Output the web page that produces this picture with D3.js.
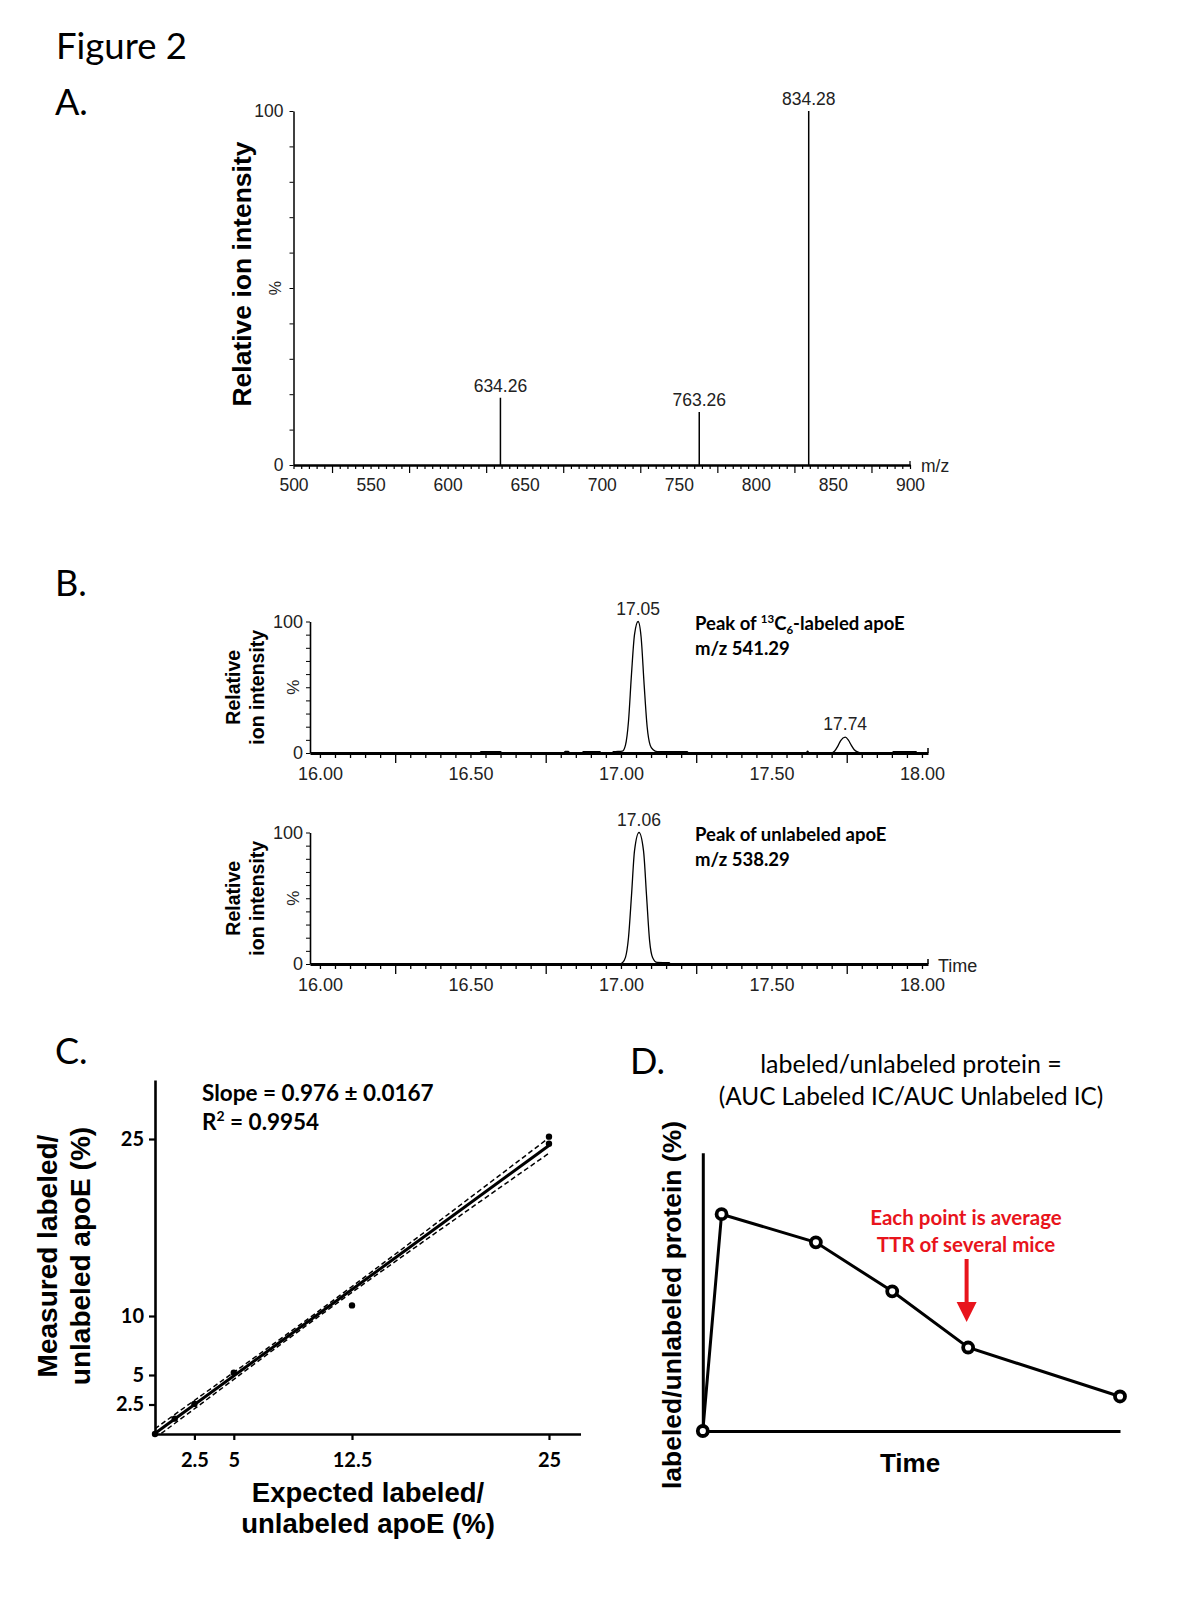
<!DOCTYPE html>
<html><head><meta charset="utf-8">
<script src="https://cdn.jsdelivr.net/npm/d3@7/dist/d3.min.js"></script>
<style>body{margin:0;background:#fff}svg{display:block}</style>
</head><body>
<svg id="fig" width="1200" height="1600"></svg>
<script>
// ---------------- Panel A: MS/MS spectrum ----------------
const spectrumMz = [634.26, 763.26, 834.28];
const spectrumIntensity = [19, 15, 100];
const spectrumLabels = ["634.26", "763.26", "834.28"];
const mzTickLabels = [500, 550, 600, 650, 700, 750, 800, 850, 900];

// ---------------- Panel B: chromatograms ----------------
const labeledTime = [15.97,16.53,16.535,16.60,16.605,16.81,16.815,16.825,16.83,16.87,16.875,16.93,16.935,16.97,16.975,17.005,17.015,17.025,17.035,17.045,17.057,17.067,17.077,17.087,17.097,17.107,17.12,17.22,17.225,17.615,17.62,17.625,17.70,17.71,17.72,17.73,17.745,17.755,17.765,17.775,17.79,17.80,17.90,17.905,17.98,17.985,18.02];
const labeledIntensity = [0,0,1,1,0,0,1.2,1.2,0,0,1,1,0,0,1,1.5,6,24,60,90,100,88,52,20,6,2.5,1,1,0,0,1.5,0,0,1.5,5,9.5,12,10,6,2.5,0.5,0,0,1,1,0,0];
const labeledPeakTimes = [17.057, 17.745];
const labeledPeakHeights = [100, 12];
const labeledPeakLabels = ["17.05", "17.74"];

const unlabeledTime = [15.97,16.995,17.005,17.015,17.025,17.035,17.045,17.06,17.075,17.085,17.095,17.105,17.12,17.16,17.165,18.02];
const unlabeledIntensity = [0,0,1,5,20,52,86,100,86,52,18,5,1.2,1,0,0];
const unlabeledPeakTimes = [17.06];
const unlabeledPeakHeights = [100];
const unlabeledPeakLabels = ["17.06"];

const timeTickLabels = [16.00, 16.50, 17.00, 17.50, 18.00];

// ---------------- Panel C: calibration ----------------
const expectedPct = [0, 1.25, 2.5, 5, 12.5, 25, 25];
const measuredPct = [0, 1.3, 2.55, 5.2, 10.9, 25.2, 24.6];
const fitX = [0, 25];
const fitY = [0.05, 24.45];
const bandX = [0, 5, 12.5, 25];
const bandUpper = [0.45, 5.23, 12.5, 25.1];
const bandLower = [-0.35, 4.63, 12.0, 23.8];
const cXTicks = [2.5, 5, 12.5, 25];
const cYTicks = [2.5, 5, 10, 25];

// ---------------- Panel D: schematic time course ----------------
const dTime = [0, 4.5, 27.1, 45.4, 63.6, 100];
const dRatio = [0, 77.9, 67.8, 50.2, 30.0, 12.4];

// =======================================================
const svg = d3.select("#fig");
svg.append("rect").attr("width", 1200).attr("height", 1600).attr("fill", "#fff");

const CAL = "Lato, 'Open Sans', sans-serif";
const ARIAL = "'Liberation Sans', Arial, sans-serif";

function txt(x, y, s, size, opt = {}) {
  const t = svg.append("text").attr("x", x).attr("y", y).text(s)
    .attr("font-size", size).attr("font-family", opt.family || ARIAL)
    .attr("font-weight", opt.weight || "normal")
    .attr("text-anchor", opt.anchor || "start")
    .attr("fill", opt.fill || "#000");
  if (opt.rotate) t.attr("transform", `rotate(-90,${x},${y})`);
  return t;
}

// Figure / panel labels
txt(56, 59, "Figure 2", 36.5, {family: CAL});
txt(55, 115, "A.", 36, {family: CAL});
txt(55, 596, "B.", 36, {family: CAL});
txt(55, 1064, "C.", 36, {family: CAL});
txt(630, 1074, "D.", 36, {family: CAL});

// ---------------- Panel A ----------------
{
  const x = d3.scaleLinear().domain([500, 900]).range([293.5, 910]);
  const y = d3.scaleLinear().domain([0, 100]).range([465, 111]);
  const g = svg.append("g");
  const xa = g.append("g").attr("transform", `translate(0,${y(0)})`)
    .call(d3.axisBottom(x).tickValues(d3.range(500, 901, 5)).tickSize(4).tickSizeOuter(0).tickPadding(10)
      .tickFormat(d => mzTickLabels.includes(d) ? String(d) : ""));
  xa.select(".domain").attr("stroke-width", 2.5);
  xa.selectAll(".tick line").attr("stroke-width", 1.2)
    .attr("y2", d => ((d - 500) % 50 === 25) ? 8 : 4);
  xa.selectAll("text").attr("font-family", ARIAL).attr("font-size", 17.5).attr("fill", "#222");
  g.append("line").attr("x1", x(900)).attr("x2", x(900)).attr("y1", y(0) - 4).attr("y2", y(0)).attr("stroke", "#000").attr("stroke-width", 1.2);

  const ya = g.append("g").attr("transform", `translate(${x(500)},0)`)
    .call(d3.axisLeft(y).tickValues(d3.range(0, 101, 10)).tickSize(4).tickSizeOuter(0).tickPadding(6)
      .tickFormat(d => (d === 0 || d === 100) ? String(d) : ""));
  ya.select(".domain").attr("stroke-width", 1.5);
  ya.selectAll("text").attr("font-family", ARIAL).attr("font-size", 17.5).attr("fill", "#222");
  txt(281, y(50), "%", 16, {anchor: "middle", rotate: true, fill: "#222"});
  txt(921, 472, "m/z", 17.5, {fill: "#222"});

  g.selectAll(".stick").data(spectrumMz).enter().append("line")
    .attr("x1", d => x(d)).attr("x2", d => x(d))
    .attr("y1", y(0)).attr("y2", (d, i) => y(spectrumIntensity[i]))
    .attr("stroke", "#000").attr("stroke-width", 1.5);
  g.selectAll(".slab").data(spectrumMz).enter().append("text")
    .attr("x", d => x(d)).attr("y", (d, i) => y(spectrumIntensity[i]) - 6)
    .attr("text-anchor", "middle").attr("font-family", ARIAL).attr("font-size", 17.5).attr("fill", "#222")
    .text((d, i) => spectrumLabels[i]);
  txt(251, 274, "Relative ion intensity", 26.5, {weight: "bold", anchor: "middle", rotate: true});
}

// ---------------- Panel B ----------------
function chrom(y0, y100, times, ints, pkT, pkH, pkL, label1, label2, sup, showTime) {
  const x = d3.scaleLinear().domain([15.967, 18.02]).range([310, 928]);
  const y = d3.scaleLinear().domain([0, 100]).range([y0, y100]);
  const g = svg.append("g");
  const xa = g.append("g").attr("transform", `translate(0,${y(0)})`)
    .call(d3.axisBottom(x).tickValues(d3.range(0, 41).map(i => +(16 + i * 0.05).toFixed(2)))
      .tickSize(5).tickSizeOuter(0).tickPadding(9)
      .tickFormat(d => timeTickLabels.includes(d) ? d.toFixed(2) : ""));
  xa.select(".domain").attr("stroke-width", 3.2);
  xa.selectAll(".tick line").attr("stroke-width", 1.3)
    .attr("y2", d => (Math.abs(((d - 16) * 100) % 50 - 25) < 0.01) ? 10 : 5);
  xa.selectAll("text").attr("font-family", ARIAL).attr("font-size", 18).attr("fill", "#222");
  g.append("line").attr("x1", 928).attr("x2", 928).attr("y1", y(0) - 5).attr("y2", y(0)).attr("stroke", "#000").attr("stroke-width", 1.5);

  const ya = g.append("g").attr("transform", `translate(310,0)`)
    .call(d3.axisLeft(y).tickValues(d3.range(0, 101, 10)).tickSize(4).tickSizeOuter(0).tickPadding(3)
      .tickFormat(d => (d === 0 || d === 100) ? String(d) : ""));
  ya.select(".domain").attr("stroke-width", 1.6);
  ya.selectAll("text").attr("font-family", ARIAL).attr("font-size", 18).attr("fill", "#222");
  txt(299, y(50), "%", 17, {anchor: "middle", rotate: true, fill: "#222"});

  const line = d3.line().x((d, i) => x(times[i])).y(d => y(d)).curve(d3.curveMonotoneX);
  g.append("path").datum(ints).attr("d", line).attr("fill", "none").attr("stroke", "#000").attr("stroke-width", 1.3);
  g.selectAll(".pl").data(pkT).enter().append("text")
    .attr("x", d => x(d)).attr("y", (d, i) => y(pkH[i]) - 7)
    .attr("text-anchor", "middle").attr("font-family", ARIAL).attr("font-size", 17.5).attr("fill", "#222")
    .text((d, i) => pkL[i]);

  const cy = (y0 + y100) / 2;
  txt(240, cy, "Relative", 19.5, {weight: "bold", anchor: "middle", rotate: true});
  txt(264, cy, "ion intensity", 19.5, {weight: "bold", anchor: "middle", rotate: true});

  const a1 = svg.append("text").attr("x", 695).attr("y", y100 + 8).attr("font-family", CAL)
    .attr("font-weight", "bold").attr("font-size", 18.5);
  if (sup) {
    a1.append("tspan").text("Peak of ");
    a1.append("tspan").text("13").attr("font-size", 11.5).attr("dy", -7);
    a1.append("tspan").text("C").attr("dy", 7);
    a1.append("tspan").text("6").attr("font-size", 11.5).attr("dy", 4);
    a1.append("tspan").text("-labeled apoE").attr("dy", -4);
  } else a1.text(label1);
  txt(695, y100 + 33, label2, 18.5, {family: CAL, weight: "bold"});
  if (showTime) txt(938, y0 + 8, "Time", 18, {fill: "#222"});
}
chrom(753, 621.5, labeledTime, labeledIntensity, labeledPeakTimes, labeledPeakHeights, labeledPeakLabels,
      "", "m/z 541.29", true, false);
chrom(964, 832.5, unlabeledTime, unlabeledIntensity, unlabeledPeakTimes, unlabeledPeakHeights, unlabeledPeakLabels,
      "Peak of unlabeled apoE", "m/z 538.29", false, true);

// ---------------- Panel C ----------------
{
  const x = d3.scaleLinear().domain([0, 27]).range([155, 580.5]);
  const y = d3.scaleLinear().domain([0, 30]).range([1434, 1080]);
  const g = svg.append("g");
  const clipId = "clipC";
  svg.append("clipPath").attr("id", clipId).append("rect")
    .attr("x", x(0)).attr("y", y(30)).attr("width", x(27) - x(0)).attr("height", y(0) - y(30));

  const xa = g.append("g").attr("transform", `translate(0,${y(0)})`)
    .call(d3.axisBottom(x).tickValues(cXTicks).tickSize(6).tickSizeOuter(0).tickPadding(13).tickFormat(d => String(d)));
  const ya = g.append("g").attr("transform", `translate(${x(0)},0)`)
    .call(d3.axisLeft(y).tickValues(cYTicks).tickSize(6).tickSizeOuter(0).tickPadding(5).tickFormat(d => String(d)));
  [xa, ya].forEach(a => {
    a.select(".domain").attr("stroke-width", 2.6);
    a.selectAll(".tick line").attr("stroke-width", 2.2);
    a.selectAll("text").attr("font-family", CAL).attr("font-weight", "bold").attr("font-size", 20).attr("fill", "#000");
  });

  const dash = d3.line().x((d, i) => x(bandX[i])).y(d => y(d)).curve(d3.curveNatural);
  [bandUpper, bandLower].forEach(b => g.append("path").datum(b).attr("d", dash)
    .attr("clip-path", `url(#${clipId})`)
    .attr("fill", "none").attr("stroke", "#000").attr("stroke-width", 1.5).attr("stroke-dasharray", "5,3"));
  g.append("path").datum(fitY).attr("d", d3.line().x((d, i) => x(fitX[i])).y(d => y(d)))
    .attr("clip-path", `url(#${clipId})`)
    .attr("fill", "none").attr("stroke", "#000").attr("stroke-width", 3);
  g.selectAll(".pt").data(expectedPct).enter().append("circle")
    .attr("cx", d => x(d)).attr("cy", (d, i) => y(measuredPct[i])).attr("r", 3.2).attr("fill", "#000");

  svg.append("text").attr("x", 202).attr("y", 1101).attr("font-family", CAL)
    .attr("font-weight", "bold").attr("font-size", 22.5).text("Slope = 0.976 \u00b1 0.0167");
  const r = svg.append("text").attr("x", 202).attr("y", 1130).attr("font-family", CAL)
    .attr("font-weight", "bold").attr("font-size", 22.5);
  r.append("tspan").text("R");
  r.append("tspan").text("2").attr("font-size", 14).attr("dy", -9);
  r.append("tspan").text(" = 0.9954").attr("dy", 9);

  txt(57, 1256, "Measured labeled/", 28, {weight: "bold", anchor: "middle", rotate: true});
  txt(90, 1256, "unlabeled apoE (%)", 28, {weight: "bold", anchor: "middle", rotate: true});
  txt(368, 1502, "Expected labeled/", 27.5, {weight: "bold", anchor: "middle"});
  txt(368, 1533, "unlabeled apoE (%)", 27.5, {weight: "bold", anchor: "middle"});
}

// ---------------- Panel D ----------------
{
  const x = d3.scaleLinear().domain([0, 100]).range([702.8, 1120]);
  const y = d3.scaleLinear().domain([0, 100]).range([1431, 1152.7]);
  const g = svg.append("g");
  const xa = g.append("g").attr("transform", `translate(0,${y(0)})`)
    .call(d3.axisBottom(x).tickValues([]).tickSizeOuter(0));
  const ya = g.append("g").attr("transform", `translate(${x(0)},0)`)
    .call(d3.axisLeft(y).tickValues([]).tickSizeOuter(0));
  [xa, ya].forEach(a => a.select(".domain").attr("stroke-width", 3));

  g.append("path").datum(dRatio)
    .attr("d", d3.line().x((d, i) => x(dTime[i])).y(d => y(d)))
    .attr("fill", "none").attr("stroke", "#000").attr("stroke-width", 3);
  g.selectAll(".dp").data(dTime).enter().append("circle")
    .attr("cx", d => x(d)).attr("cy", (d, i) => y(dRatio[i])).attr("r", 5)
    .attr("fill", "#fff").attr("stroke", "#000").attr("stroke-width", 3.8);

  txt(911, 1073, "labeled/unlabeled protein =", 25, {family: CAL, anchor: "middle"});
  txt(911, 1105, "(AUC Labeled IC/AUC Unlabeled IC)", 24.3, {family: CAL, anchor: "middle"});
  const RED = "#e8141c";
  txt(966, 1225, "Each point is average", 20.5, {family: CAL, weight: "bold", anchor: "middle", fill: RED});
  txt(966, 1252, "TTR of several mice", 20.5, {family: CAL, weight: "bold", anchor: "middle", fill: RED});
  g.append("line").attr("x1", 966.6).attr("x2", 966.6).attr("y1", 1259).attr("y2", 1306)
    .attr("stroke", RED).attr("stroke-width", 4);
  g.append("path").attr("d", `M${966.6 - 10},1302 L${966.6 + 10},1302 L966.6,1322 Z`).attr("fill", RED);

  txt(910, 1472, "Time", 26, {weight: "bold", anchor: "middle"});
  txt(681, 1305, "labeled/unlabeled protein (%)", 26.5, {weight: "bold", anchor: "middle", rotate: true});
}
</script>
</body></html>
